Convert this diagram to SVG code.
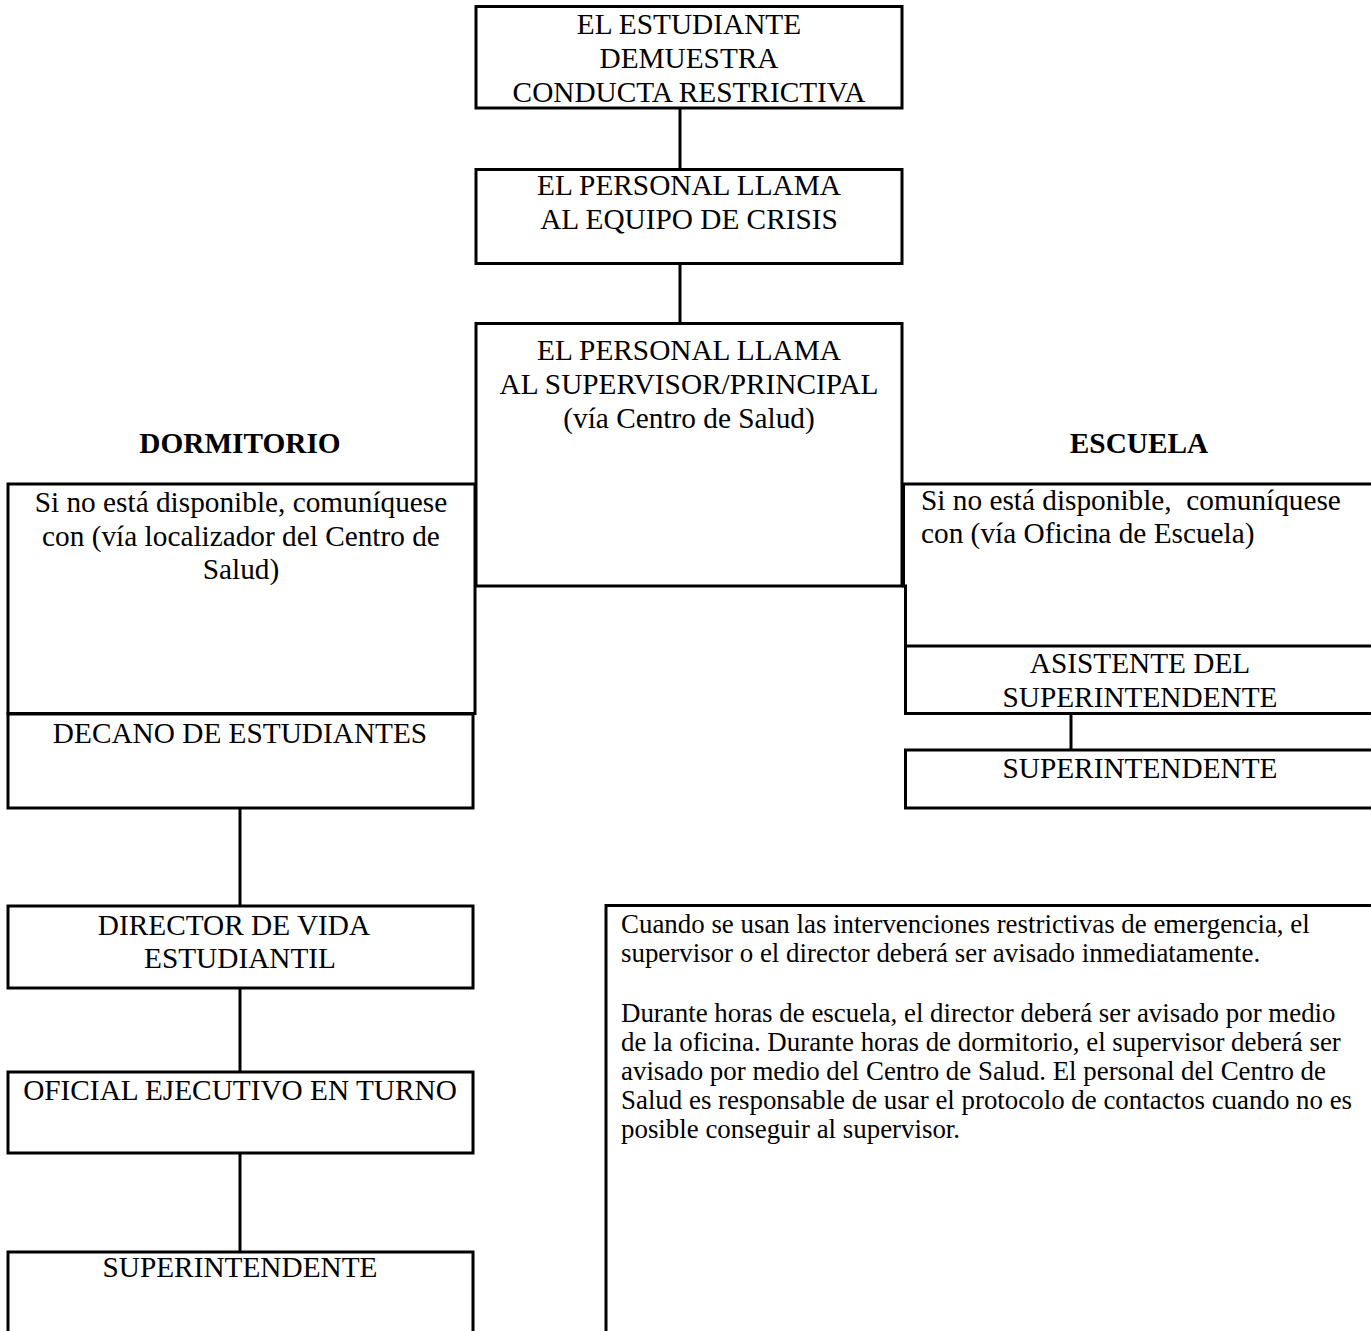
<svg xmlns="http://www.w3.org/2000/svg" width="1371" height="1331" viewBox="0 0 1371 1331">
<style>
.box{fill:none;stroke:#000;stroke-width:3}
.ln{fill:none;stroke:#000;stroke-width:3}
text{font-family:"Liberation Serif","Times New Roman",serif;fill:#000}
.t{font-size:29.3px}
.c{text-anchor:middle}
.b{font-weight:bold}
.n{font-size:26.9px}
</style>
<rect width="1371" height="1331" fill="#fff"/>
<g id="connectors">
<line class="ln" x1="680" y1="108" x2="680" y2="169.5"/>
<line class="ln" x1="680" y1="263.5" x2="680" y2="323.5"/>
<line class="ln" x1="240" y1="808" x2="240" y2="906"/>
<line class="ln" x1="240" y1="988" x2="240" y2="1072"/>
<line class="ln" x1="240" y1="1153" x2="240" y2="1252"/>
<line class="ln" x1="1071" y1="714" x2="1071" y2="750"/>
</g>
<g id="n-estudiante">
<rect class="box" x="476" y="6.5" width="426" height="101.5"/>
<text class="t c" x="689" y="34">EL ESTUDIANTE</text>
<text class="t c" x="689" y="68">DEMUESTRA</text>
<text class="t c" x="689" y="102">CONDUCTA RESTRICTIVA</text>
</g>
<g id="n-crisis">
<rect class="box" x="476" y="169.5" width="426" height="94"/>
<text class="t c" x="689" y="195">EL PERSONAL LLAMA</text>
<text class="t c" x="689" y="229">AL EQUIPO DE CRISIS</text>
</g>
<g id="n-supervisor">
<rect class="box" x="476" y="323.5" width="426" height="262.5"/>
<text class="t c" x="689" y="360">EL PERSONAL LLAMA</text>
<text class="t c" x="689" y="394">AL SUPERVISOR/PRINCIPAL</text>
<text class="t c" x="689" y="428">(vía Centro de Salud)</text>
</g>
<g id="h-dormitorio">
<text class="t c b" x="240" y="453">DORMITORIO</text>
</g>
<g id="h-escuela">
<text class="t c b" x="1139" y="453">ESCUELA</text>
</g>
<g id="n-dorm-alt">
<rect class="box" x="8" y="484" width="467" height="229.5"/>
<text class="t c" x="241" y="512">Si no está disponible, comuníquese</text>
<text class="t c" x="241" y="545.5">con (vía localizador del Centro de</text>
<text class="t c" x="241" y="579">Salud)</text>
</g>
<g id="n-decano">
<rect class="box" x="8" y="714" width="465" height="94"/>
<text class="t c" x="240" y="743">DECANO DE ESTUDIANTES</text>
</g>
<g id="n-director">
<rect class="box" x="8" y="906" width="465" height="82"/>
<text class="t c" x="234" y="935">DIRECTOR DE VIDA</text>
<text class="t c" x="240" y="968">ESTUDIANTIL</text>
</g>
<g id="n-oficial">
<rect class="box" x="8" y="1072" width="465" height="81"/>
<text class="t c" x="240" y="1100">OFICIAL EJECUTIVO EN TURNO</text>
</g>
<g id="n-super-dorm">
<path class="box" d="M8 1340 V1252 H473 V1340"/>
<text class="t c" x="240" y="1277">SUPERINTENDENTE</text>
</g>
<g id="n-escuela-alt">
<path class="box" d="M1380 484 H903.5 V586 H905.5 V646"/>
<text class="t" x="921" y="510" xml:space="preserve">Si no está disponible,  comuníquese</text>
<text class="t" x="921" y="543">con (vía Oficina de Escuela)</text>
</g>
<g id="n-asistente">
<path class="box" d="M1380 646 H905.5 V713.5 H1380"/>
<text class="t c" x="1140" y="673">ASISTENTE DEL</text>
<text class="t c" x="1140" y="707">SUPERINTENDENTE</text>
</g>
<g id="n-super-escuela">
<path class="box" d="M1380 750 H905.5 V808 H1380"/>
<text class="t c" x="1140" y="778">SUPERINTENDENTE</text>
</g>
<g id="n-nota">
<path class="box" d="M606 1340 V905.5 H1380"/>
<text class="n" x="621" y="933">Cuando se usan las intervenciones restrictivas de emergencia, el</text>
<text class="n" x="621" y="962">supervisor o el director deberá ser avisado inmediatamente.</text>
<text class="n" x="621" y="1022">Durante horas de escuela, el director deberá ser avisado por medio</text>
<text class="n" x="621" y="1051">de la oficina. Durante horas de dormitorio, el supervisor deberá ser</text>
<text class="n" x="621" y="1080">avisado por medio del Centro de Salud. El personal del Centro de</text>
<text class="n" x="621" y="1109">Salud es responsable de usar el protocolo de contactos cuando no es</text>
<text class="n" x="621" y="1138">posible conseguir al supervisor.</text>
</g>
</svg>
